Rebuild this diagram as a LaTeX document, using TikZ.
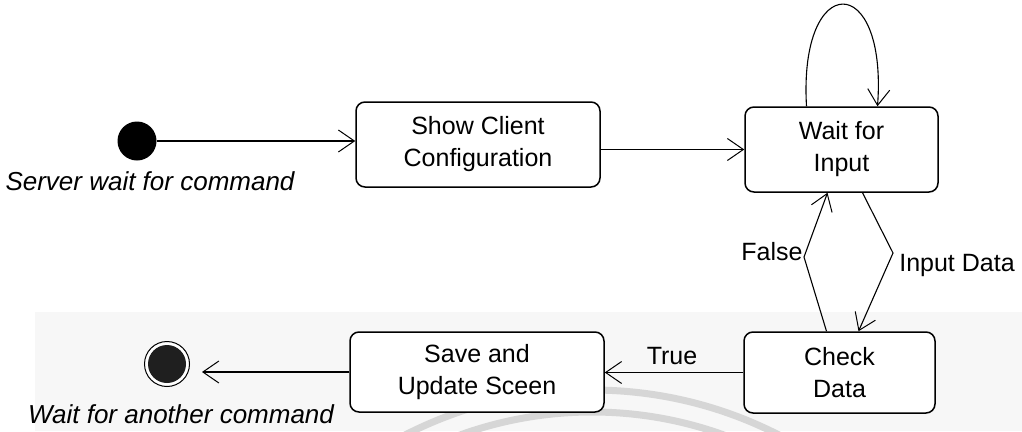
\documentclass[tikz,border=0pt]{standalone}
\usepackage{fontspec}
\setmainfont{Liberation Sans}
\usetikzlibrary{arrows.meta,calc}
\begin{document}
\begin{tikzpicture}[x=1pt,y=-1pt,
  statebox/.style={draw, line width=1.5pt, rounded corners=9pt, align=center,
    inner sep=0pt, font=\fontsize{25}{32}\selectfont},
  arr/.style={line width=1.1pt, -{Straight Barb[length=16pt,width=22pt,line width=1pt]}},
  lbl/.style={font=\fontsize{25}{30}\selectfont, inner sep=0pt},
  ilbl/.style={font=\fontsize{26}{30}\selectfont\itshape, inner sep=0pt, anchor=base},
  wm/.style={draw=black!16, line width=7pt}]
\useasboundingbox (0,0) rectangle (1022,431);
% faint background band and watermark arcs of the scan
\fill[black!3] (35,312) rectangle (1022,431);
\begin{scope}
\clip (0,0) rectangle (1022,431);
\draw[wm] (592,800) circle[radius=410];
\draw[wm] (592,800) circle[radius=388];
\end{scope}
% states
\node[circle, fill=black, minimum size=39pt, inner sep=0pt] (init) at (137,141) {};
\node[statebox, minimum width=244pt, minimum height=85pt] (show) at (478,144.5) {Show Client\\Configuration};
\node[statebox, minimum width=193pt, minimum height=85pt, fill=white] (wait) at (841.5,149.5) {Wait for\\Input};
\node[statebox, minimum width=191pt, minimum height=81pt, fill=white] (check) at (839.5,372.5) {Check\\Data};
\node[statebox, minimum width=254pt, minimum height=80pt, fill=white] (save) at (477,372) {Save and\\Update Sceen};
\node[circle, draw, line width=1pt, minimum size=45pt, inner sep=0pt, fill=white] (final) at (167,364) {};
\fill[black!88] (final.center) circle[radius=19];
% labels
\node[ilbl] (lserver) at (150,190) {Server wait for command};
\node[ilbl] (lfinal) at (181,423) {Wait for another command};
% transitions
\coordinate (fb) at (804,257);
\coordinate (ib) at (893,253);
\draw[arr] (init.east) -- (init -| show.west);
\draw[arr] (wait.west -| show.east) -- (wait.west);
\draw[arr] ([xshift=-35pt]wait.north) .. controls +(-8,-136) and +(10,-136) .. ([xshift=36pt]wait.north);
\draw[arr] ([xshift=21pt]wait.south) -- (ib) -- ([xshift=19pt]check.north);
\draw[arr] ([xshift=-13pt]check.north) -- (fb) -- ([xshift=-14pt]wait.south);
\draw[arr] (check.west) -- (check.west -| save.east);
\draw[arr, shorten >=12pt] (save.west) -- (save.west -| final.east);
\node[lbl] (lfalse) at (772,252) {False};
\node[lbl] (linput) at (957,265) {Input Data};
\node[lbl] (ltrue) at (672,356) {True};
\end{tikzpicture}
\end{document}
